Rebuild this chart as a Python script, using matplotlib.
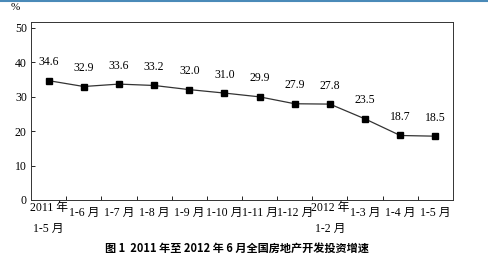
import matplotlib
matplotlib.use("Agg")
import matplotlib.pyplot as plt
import numpy as np

plt.rcParams['font.family'] = ['Liberation Serif', 'Noto Sans CJK SC']

# growth of national real-estate development investment, %
periods = ["2011 年\n1-5 月", "1-6 月", "1-7 月", "1-8 月", "1-9 月", "1-10 月",
           "1-11 月", "1-12 月", "2012 年\n1-2 月", "1-3 月", "1-4 月", "1-5 月"]
growth = [34.6, 32.9, 33.6, 33.2, 32.0, 31.0, 29.9, 27.9, 27.8, 23.5, 18.7, 18.5]
yticks = [0, 10, 20, 30, 40, 50]

fig = plt.figure(figsize=(4.89, 2.63), dpi=100)
ax = fig.add_axes([31 / 489, 1 - 200 / 263, (453 - 31) / 489, (200 - 22) / 263])

x = np.arange(len(growth))
ax.plot(x, growth, color='#333333', lw=0.9, marker='s', ms=4.5,
        mfc='black', mec='black')
for xi, v in zip(x, growth):
    ax.annotate("%.1f" % v, (xi, v), xytext=(0, 9), textcoords='offset points',
                ha='center', va='bottom', fontsize=8.5)

ax.set_xlim(-0.5, len(growth) - 0.5)
ax.set_ylim(0, 51.6)
ax.set_yticks(yticks)
ax.set_yticklabels([str(t) for t in yticks], fontsize=8.5)

# labels sit at the points, ticks fall between them
ax.set_xticks(x[:-1] + 0.5)
ax.set_xticklabels([])
ax.tick_params(axis='x', direction='in', length=3, width=0.6)
ax.tick_params(axis='y', direction='in', length=3, width=0.6, pad=3)
tr = ax.get_xaxis_transform()
for xi, p in zip(x, periods):
    if "\n" in p:
        top, bottom = p.split("\n")
        ax.text(xi, -0.045, top, transform=tr, ha='center', va='center', fontsize=8.5)
        ax.text(xi, -0.165, bottom, transform=tr, ha='center', va='center', fontsize=8.5)
    else:
        ax.text(xi, -0.07, p, transform=tr, ha='center', va='center', fontsize=8.5)

for s in ax.spines.values():
    s.set_linewidth(0.7)
    s.set_color('#333333')

fig.text(15 / 489, 1 - 8 / 263, "%", fontsize=8, ha='center', va='center')
fig.text(237 / 489, 1 - 248 / 263, "图 1  2011 年至 2012 年 6 月全国房地产开发投资增速",
         fontsize=8, fontweight='bold', ha='center', va='center',
         family=['Noto Sans CJK SC', 'DejaVu Sans'])
fig.add_artist(plt.Line2D([0, 1], [0.998, 0.998], color='#4a8ab8', lw=1.5,
                          transform=fig.transFigure))

fig.savefig("out.png", dpi=100)
